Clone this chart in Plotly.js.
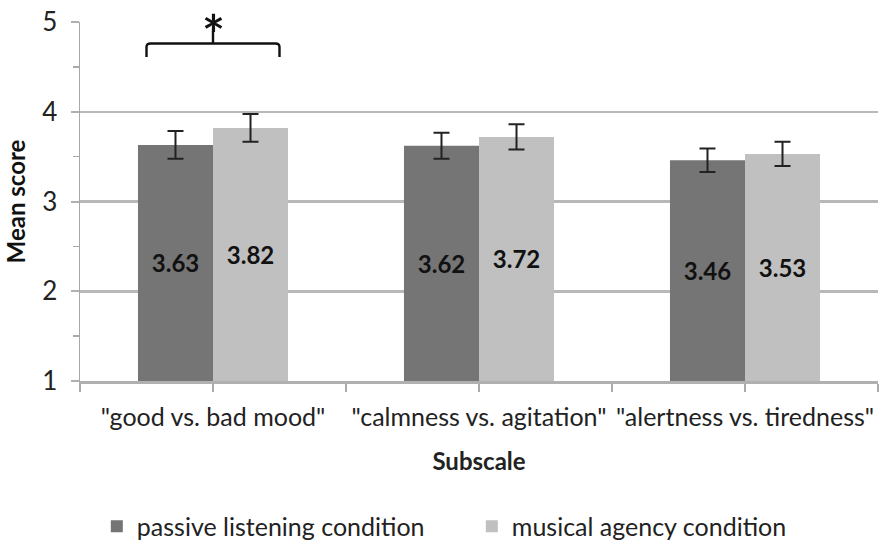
<!DOCTYPE html>
<html><head><meta charset="utf-8">
<script src="https://cdn.plot.ly/plotly-3.0.1.min.js"></script>
<style>html,body{margin:0;padding:0;background:#fff}#chart{width:892px;height:553px}</style>
</head><body><div id="chart"></div>
<script>
const categories = ['"good vs. bad mood"', '"calmness vs. agitation"', '"alertness vs. tiredness"'];
const seriesNames = ['passive listening condition', 'musical agency condition'];
const passiveMeans = [3.63, 3.62, 3.46];
const agencyMeans = [3.82, 3.72, 3.53];
const passiveErr = [0.155, 0.145, 0.13];
const agencyErr = [0.155, 0.14, 0.135];
const yTicks = [1, 2, 3, 4, 5];

const FONT = 'Lato, "Open Sans", sans-serif';
const xIdx = categories.map((c, i) => i);

function barTrace(name, vals, errs, color) {
  return {
    type: 'bar', name: name, x: xIdx, y: vals.map(v => v - 1), base: 1,
    marker: {color: color, line: {width: 0}},
    text: vals.map(v => v.toFixed(2)), textposition: 'inside', insidetextanchor: 'middle',
    textangle: 0,
    textfont: {family: FONT, size: 24, color: '#111', weight: 'bold'},
    error_y: {type: 'data', array: errs, visible: true, color: '#222', thickness: 2, width: 8},
    hoverinfo: 'skip'
  };
}

const data = [
  barTrace(seriesNames[0], passiveMeans, passiveErr, '#757575'),
  barTrace(seriesNames[1], agencyMeans, agencyErr, '#c0c0c0')
];

const layout = {
  width: 892, height: 553,
  margin: {l: 80, r: 14, t: 22, b: 172, autoexpand: false},
  paper_bgcolor: '#fff', plot_bgcolor: '#fff',
  font: {family: FONT, color: '#222'},
  barmode: 'group', bargap: 0.436, bargroupgap: 0,
  showlegend: true,
  legend: {orientation: 'h', x: 0.491, xanchor: 'center', y: -0.405, yanchor: 'middle',
           font: {family: FONT, size: 25, color: '#222'}, itemwidth: 30, traceorder: 'normal',
           entrywidth: 330, entrywidthmode: 'pixels'},
  xaxis: {
    type: 'linear', range: [-0.5, 2.5], tickmode: 'array', tickvals: xIdx, ticktext: categories,
    ticks: 'outside', ticklen: 8, tickcolor: '#aaa', tickwidth: 1.5,
    minor: {tickmode: 'array', tickvals: [-0.5, 0.5, 1.5, 2.5], ticks: 'outside', ticklen: 8, tickcolor: '#aaa', tickwidth: 1.5, showgrid: false},
    showgrid: false, zeroline: false, showline: true, linecolor: '#b0b0b0', linewidth: 2.5,
    tickfont: {family: FONT, size: 25, color: '#222'}, automargin: false, ticklabelstandoff: 4,
    title: {text: 'Subscale', font: {family: FONT, size: 24, color: '#222', weight: 'bold'}, standoff: 24},
    fixedrange: true
  },
  yaxis: {
    range: [1, 5], tickmode: 'array', tickvals: yTicks, ticktext: yTicks.map(String),
    ticks: 'outside', ticklen: 8, tickcolor: '#b0b0b0', tickwidth: 2,
    minor: {tickmode: 'array', tickvals: [1.5, 2.5, 3.5, 4.5], ticks: 'outside', ticklen: 6, tickcolor: '#aaa', tickwidth: 1.5, showgrid: false},
    showgrid: true, gridcolor: '#b8b8b8', gridwidth: 2.5, zeroline: false,
    showline: true, linecolor: '#a8a8a8', linewidth: 1.5,
    tickfont: {family: FONT, size: 26, color: '#222'}, ticklabelstandoff: 8, automargin: false,
    title: {text: 'Mean score', font: {family: FONT, size: 24, color: '#111', weight: 'bold'}, standoff: 10},
    fixedrange: true
  },
  shapes: [{
    type: 'path', xref: 'x', yref: 'y',
    path: 'M -0.25 4.61 L -0.25 4.72 Q -0.25 4.76 -0.235 4.76 L 0.235 4.76 Q 0.25 4.76 0.25 4.72 L 0.25 4.61 M 0 4.76 L 0 4.9',
    line: {color: '#111', width: 2.4}
  }],
  annotations: [{
    xref: 'x', yref: 'y', x: 0, y: 4.87, text: '*', showarrow: false,
    font: {family: FONT, size: 54, color: '#111', weight: 'bold'}, yanchor: 'middle'
  }]
};

Plotly.newPlot('chart', data, layout, {displayModeBar: false, staticPlot: true});
</script></body></html>
